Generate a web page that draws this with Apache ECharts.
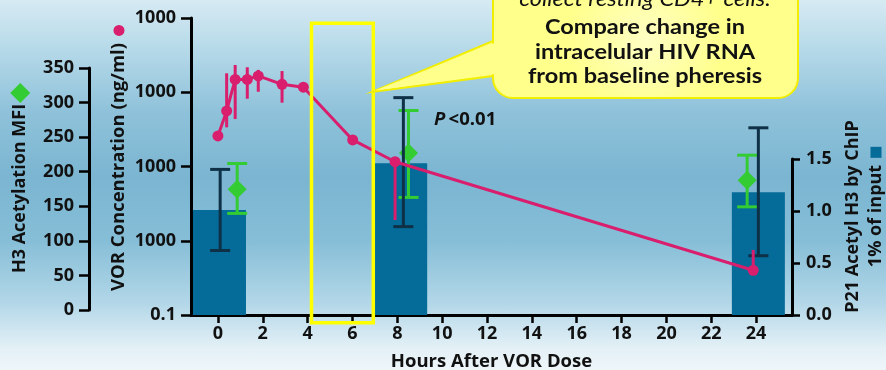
<!DOCTYPE html>
<html>
<head>
<meta charset="utf-8">
<script src="https://cdn.jsdelivr.net/npm/echarts@6/dist/echarts.min.js"></script>
<style>
html,body{margin:0;padding:0;}
#c{width:886px;height:370px;background:linear-gradient(to bottom,#d6eaf3 0%,#b9dbea 12%,#8fc2da 30%,#7bb5d1 48%,#86bed7 65%,#b3d7e8 82%,#e3f0f6 94%,#eef6fa 100%);}
</style>
</head>
<body>
<div id="c"></div>
<script>
// ---- data ----
const xTickValues = [0, 2, 4, 6, 8, 10, 12, 14, 16, 18, 20, 22, 24];
const vorTickLabels = ['0.1', '1000', '1000', '1000', '1000'];

// VOR concentration (pink line)
const vorHours = [0, 0.39, 0.77, 1.31, 1.8, 2.86, 3.81, 6.01, 7.9, 23.87];
const vorConc  = [25.8, 56, 149, 149, 166, 128, 117, 22.8, 11.6, 0.40];
const vorLow   = [null, 33.7, 43.6, 81.8, 101.6, 72.3, null, null, 1.9, 0.40];
const vorHigh  = [null, 180, 233, 217, 200, 193, null, null, 11.6, 0.75];

// H3 acetylation MFI (green diamonds)
const mfiHours = [0.86, 8.5, 23.6];
const mfi      = [174.8, 227.2, 187.8];
const mfiLow   = [139.7, 162.8, 149.2];
const mfiHigh  = [211.9, 288.5, 223.9];

// P21 acetyl H3 by ChIP (bars)
const chipHours    = [0.07, 8.15, 24.1];
const chip         = [1.01, 1.46, 1.18];
const chipErrHours = [0.1, 8.27, 24.1];
const chipLow      = [0.62, 0.85, 0.57];
const chipHigh     = [1.40, 2.09, 1.80];

// ---- styling ----
const FF = '"Open Sans", sans-serif';
const FC = 'Lato, "Open Sans", sans-serif';
const PINK = '#d81e6c', GREEN = '#33cc33', BLUE = '#056b98', NAVY = '#0f3147';
const lbl = {fontFamily: FF, fontWeight: 'bold', fontSize: 18, color: '#111'};

function errSeries(color, capHalf, xi, yi, xs, lo, hi, z) {
  const data = [];
  xs.forEach((x, i) => { if (lo[i] != null && hi[i] != null) data.push([x, lo[i], hi[i]]); });
  return {
    type: 'custom', xAxisIndex: xi, yAxisIndex: yi, z: z, clip: false,
    encode: {x: 0, y: [1, 2]},
    data: data,
    renderItem: function (params, api) {
      const x = api.value(0);
      const p1 = api.coord([x, api.value(1)]);
      const p2 = api.coord([x, api.value(2)]);
      const st = {stroke: color, lineWidth: 3};
      const ch = [{type: 'line', shape: {x1: p1[0], y1: p1[1], x2: p2[0], y2: p2[1]}, style: st}];
      if (capHalf > 0) {
        ch.push({type: 'line', shape: {x1: p1[0] - capHalf, y1: p1[1], x2: p1[0] + capHalf, y2: p1[1]}, style: st});
        ch.push({type: 'line', shape: {x1: p2[0] - capHalf, y1: p2[1], x2: p2[0] + capHalf, y2: p2[1]}, style: st});
      }
      return {type: 'group', children: ch};
    }
  };
}

const axLine = {show: true, onZero: false, lineStyle: {color: '#000', width: 3}};
const axTick = {show: true, length: 9, lineStyle: {color: '#000', width: 2.5}};

const chart = echarts.init(document.getElementById('c'), null, {renderer: 'canvas'});
const option = {
  animation: false,
  backgroundColor: 'transparent',
  grid: [
    {left: 191, right: 94, top: 18, bottom: 55, outerBoundsMode: 'none', containLabel: false},
    {left: 191, right: 94, top: 68, bottom: 60, outerBoundsMode: 'none', containLabel: false},
    {left: 191, right: 94, top: 159, bottom: 55, outerBoundsMode: 'none', containLabel: false}
  ],
  xAxis: [
    {gridIndex: 0, type: 'value', min: -1.2, max: 25.6,
     axisLine: axLine,
     axisTick: {show: true, length: 8, customValues: xTickValues, lineStyle: {color: '#000', width: 2.5}},
     axisLabel: Object.assign({customValues: xTickValues, margin: 10}, lbl),
     splitLine: {show: false},
     name: 'Hours After VOR Dose', nameLocation: 'middle', nameGap: 37,
     nameTextStyle: Object.assign({}, lbl, {fontSize: 18.5})},
    {gridIndex: 1, type: 'value', min: -1.2, max: 25.6, show: false},
    {gridIndex: 2, type: 'value', min: -1.2, max: 25.6, show: false}
  ],
  yAxis: [
    {gridIndex: 0, type: 'log', logBase: 10, min: 0.1, max: 1000, position: 'left',
     axisLine: axLine, axisTick: Object.assign({}, axTick, {length: 10}),
     minorTick: {show: false}, splitLine: {show: false}, minorSplitLine: {show: false},
     axisLabel: Object.assign({margin: 15, formatter: (v, i) => vorTickLabels[i]}, lbl)},
    {gridIndex: 1, type: 'value', min: 0, max: 350, interval: 50, position: 'left', offset: 102,
     axisLine: axLine, axisTick: Object.assign({}, axTick, {length: 10}), splitLine: {show: false},
     axisLabel: Object.assign({margin: 15}, lbl)},
    {gridIndex: 2, type: 'value', min: 0, max: 1.5, interval: 0.5, position: 'right',
     axisLine: axLine, axisTick: Object.assign({}, axTick, {length: 8}), splitLine: {show: false},
     axisLabel: Object.assign({margin: 14, formatter: v => v.toFixed(1)}, lbl)}
  ],
  series: [
    {type: 'bar', xAxisIndex: 2, yAxisIndex: 2, barWidth: 53, z: 1,
     itemStyle: {color: BLUE}, data: chipHours.map((h, i) => [h, chip[i]])},
    errSeries(GREEN, 10, 1, 1, mfiHours, mfiLow, mfiHigh, 2),
    {type: 'scatter', xAxisIndex: 1, yAxisIndex: 1, symbol: 'diamond', symbolSize: 19, z: 3,
     itemStyle: {color: GREEN, opacity: 1}, data: mfiHours.map((h, i) => [h, mfi[i]])},
    errSeries(NAVY, 10, 2, 2, chipErrHours, chipLow, chipHigh, 4),
    errSeries(PINK, 0, 0, 0, vorHours, vorLow, vorHigh, 5),
    {type: 'line', xAxisIndex: 0, yAxisIndex: 0, z: 6, symbol: 'circle', symbolSize: 11,
     lineStyle: {color: PINK, width: 3}, itemStyle: {color: PINK},
     data: vorHours.map((h, i) => [h, vorConc[i]])}
  ],
  graphic: [
    // highlight box
    {type: 'rect', z: 100, shape: {x: 311.5, y: 23.3, width: 61.8, height: 299.4},
     style: {fill: 'none', stroke: '#ffff00', lineWidth: 3.5}},
    // callout
    {type: 'polygon', z: 101, shape: {points: [[372.7, 91.7], [500, 38], [500, 75]]},
     style: {fill: '#ffff8c', stroke: '#f2ee00', lineWidth: 2}},
    {type: 'rect', z: 102, shape: {x: 493, y: -30, width: 305, height: 128, r: 20},
     style: {fill: {type: 'radial', x: 0.5, y: 0.55, r: 0.6, colorStops: [{offset: 0, color: '#ffffc4'}, {offset: 1, color: '#ffff8c'}]},
             stroke: '#f2ee00', lineWidth: 2}},
    {type: 'polygon', z: 103, shape: {points: [[375, 90.5], [502, 40], [502, 73]]},
     style: {fill: '#ffff8c'}},
    {type: 'text', z: 104, x: 645, y: -1, scaleX: 1.12, style: {text: 'collect resting CD4+ cells.', align: 'center', verticalAlign: 'middle',
     fontFamily: FC, fontStyle: 'italic', fontSize: 21, fill: '#111'}},
    {type: 'text', z: 104, x: 645, y: 27, scaleX: 1.12, style: {text: 'Compare change in', align: 'center', verticalAlign: 'middle',
     fontFamily: FC, fontWeight: 'bold', fontSize: 21, fill: '#111'}},
    {type: 'text', z: 104, x: 645, y: 52, scaleX: 1.12, style: {text: 'intracelular HIV RNA', align: 'center', verticalAlign: 'middle',
     fontFamily: FC, fontWeight: 'bold', fontSize: 21, fill: '#111'}},
    {type: 'text', z: 104, x: 645, y: 76, scaleX: 1.12, style: {text: 'from baseline pheresis', align: 'center', verticalAlign: 'middle',
     fontFamily: FC, fontWeight: 'bold', fontSize: 21, fill: '#111'}},
    // P value
    {type: 'text', z: 104, x: 434, y: 120, style: {text: '{i|P} {b|<0.01}', verticalAlign: 'middle',
     rich: {i: {fontFamily: FF, fontWeight: 'bold', fontStyle: 'italic', fontSize: 18.5, fill: '#111'},
            b: {fontFamily: FF, fontWeight: 'bold', fontSize: 18.5, fill: '#111'}}}},
    // axis titles
    {type: 'text', z: 104, x: 20, y: 178, rotation: Math.PI / 2,
     style: {text: '{t|H3 Acetylation MFI}{d|◆}', align: 'center', verticalAlign: 'middle',
     rich: {t: {fontFamily: FF, fontWeight: 'bold', fontSize: 18, fill: '#111', verticalAlign: 'middle'},
            d: {fontFamily: 'DejaVu Sans', fontSize: 26, fill: GREEN, verticalAlign: 'middle', padding: [0, 0, 0, 1]}}}},
    {type: 'text', z: 104, x: 119, y: 158, rotation: Math.PI / 2,
     style: {text: '{t|VOR Concentration (ng/ml)}{c| }', align: 'center', verticalAlign: 'middle',
     rich: {t: {fontFamily: FF, fontWeight: 'bold', fontSize: 18.5, fill: '#111', verticalAlign: 'middle', padding: [0, 7, 0, 0]},
            c: {width: 11, height: 11, borderRadius: 5.5, backgroundColor: PINK, verticalAlign: 'middle', fontSize: 1}}}},
    {type: 'text', z: 104, x: 853, y: 216.5, rotation: Math.PI / 2,
     style: {text: 'P21 Acetyl H3 by ChIP', align: 'center', verticalAlign: 'middle',
     fontFamily: FF, fontWeight: 'bold', fontSize: 18, fill: '#111'}},
    {type: 'text', z: 104, x: 876, y: 207, rotation: Math.PI / 2,
     style: {text: '{t|1% of input}{s| }', align: 'center', verticalAlign: 'middle',
     rich: {t: {fontFamily: FF, fontWeight: 'bold', fontSize: 18, fill: '#111', verticalAlign: 'middle', padding: [0, 7, 0, 0]},
            s: {width: 11, height: 11, backgroundColor: BLUE, verticalAlign: 'middle', fontSize: 1}}}}
  ]
};
chart.setOption(option);
</script>
</body>
</html>
